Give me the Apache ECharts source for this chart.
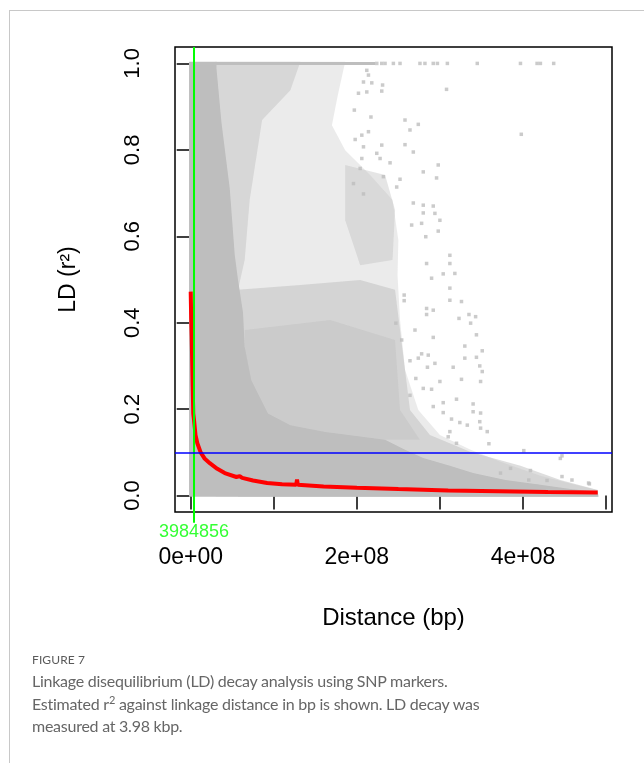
<!DOCTYPE html>
<html lang="en">
<head>
<meta charset="utf-8">
<title>LD decay</title>
<script src="https://cdn.jsdelivr.net/npm/echarts@6/dist/echarts.min.js"></script>
<style>
    html, body { margin: 0; padding: 0; background: #fff; }
    #wrap { position: relative; width: 644px; height: 763px; overflow: hidden; }
    #chart { position: absolute; left: 0; top: 0; width: 644px; height: 763px; }
    .frame { position: absolute; left: 9px; top: 10px; width: 700px; height: 800px;
             border-top: 1px solid #c8c8c8; border-left: 1px solid #c8c8c8; }
    .cap { position: absolute; left: 32px; color: #666; font-family: Lato, "Open Sans", sans-serif; }
    .figno { top: 652px; font-size: 12px; letter-spacing: 0.1px; color: #5a5a5a; }
    .captxt { top: 670px; font-size: 16px; letter-spacing: -0.25px; line-height: 22.7px; }
    .captxt sup { font-size: 11px; line-height: 0; }
</style>
</head>
<body>
<div id="wrap">
    <div class="frame"></div>
    <div id="chart"></div>
    <div class="cap figno">FIGURE 7</div>
    <div class="cap captxt">Linkage disequilibrium (LD) decay analysis using SNP markers.<br>Estimated r<sup>2</sup> against linkage distance in bp is shown. LD decay was<br>measured at 3.98 kbp.</div>
</div>
<script>
// axis ticks / labels
var xTicks = [0, 1e8, 2e8, 3e8, 4e8, 5e8];
var xLabels = [0, 2e8, 4e8];
var yTicks = [0, 0.2, 0.4, 0.6, 0.8, 1.0];

var ldDecayDist = 3984856;   // green line
var ldThreshold = 0.1;       // blue line

// fitted decay curve (red)
var decayCurve = [
    [0, 0.472], [0.6e6, 0.41], [1.2e6, 0.368], [2.4e6, 0.252], [3.1e6, 0.19], [4e6, 0.175],
    [5.8e6, 0.14], [8e6, 0.121], [1.2e7, 0.1], [1.7e7, 0.085], [2.3e7, 0.075], [3.2e7, 0.062],
    [4.1e7, 0.052], [5.5e7, 0.043], [5.9e7, 0.045], [6.2e7, 0.041], [7.5e7, 0.035], [9.2e7, 0.029],
    [1.1e8, 0.026], [1.27e8, 0.025], [1.28e8, 0.037], [1.29e8, 0.025], [1.6e8, 0.021],
    [2e8, 0.018], [2.5e8, 0.015], [3.1e8, 0.012], [3.7e8, 0.010], [4.3e8, 0.008], [4.9e8, 0.007]
];

// outlines of the pair cloud (dense core + speckled zones)
var cloudSolid = [
    [-0.02e8, 1.004], [0.31e8, 1.004], [0.31e8, 0.989], [0.37e8, 0.864], [0.47e8, 0.711],
    [0.53e8, 0.557], [0.57e8, 0.499], [0.63e8, 0.423], [0.65e8, 0.344], [0.73e8, 0.267],
    [0.93e8, 0.190], [1.20e8, 0.163], [1.62e8, 0.147], [2.34e8, 0.129], [2.58e8, 0.106],
    [2.80e8, 0.087], [3.12e8, 0.069], [3.40e8, 0.052], [3.79e8, 0.036], [4.21e8, 0.025],
    [4.57e8, 0.015], [4.90e8, 0.009], [4.91e8, -0.003], [-0.02e8, -0.003]
];
var cloudSparse = [
    [0.30e8, 1.004], [1.86e8, 1.004], [1.77e8, 0.926], [1.70e8, 0.857], [1.86e8, 0.799],
    [2.16e8, 0.742], [2.43e8, 0.684], [2.50e8, 0.591], [2.49e8, 0.510], [2.52e8, 0.406],
    [2.58e8, 0.291], [2.74e8, 0.198], [3.00e8, 0.140], [3.37e8, 0.106], [3.73e8, 0.078],
    [4.21e8, 0.046], [4.63e8, 0.025], [4.90e8, 0.013], [4.90e8, -0.003], [0.30e8, -0.003]
];
var cloudLower = [
    [0.57e8, 0.476], [1.32e8, 0.487], [2.04e8, 0.499], [2.46e8, 0.476], [2.52e8, 0.383],
    [2.58e8, 0.291], [2.64e8, 0.198], [2.88e8, 0.140], [3.37e8, 0.101], [3.97e8, 0.069],
    [4.45e8, 0.036], [4.90e8, 0.013], [4.90e8, -0.003], [0.57e8, -0.003]
];
var cloudUpperEdge = [
    [0.30e8, 1.004], [1.32e8, 1.004], [1.20e8, 0.938], [0.86e8, 0.869], [0.71e8, 0.684],
    [0.65e8, 0.545], [0.57e8, 0.476], [0.30e8, 0.476]
];
var cloudPatch = [
    [1.86e8, 0.765], [2.34e8, 0.742], [2.46e8, 0.661], [2.43e8, 0.545], [2.04e8, 0.533], [1.86e8, 0.637]
];
var cloudCore = [
    [0.65e8, 0.383], [1.68e8, 0.406], [2.46e8, 0.360], [2.52e8, 0.198], [2.76e8, 0.129], [0.65e8, 0.129]
];

// row of pairs at r2 = 1
var topBand = [[-0.02e8, 1.0], [2.22e8, 1.0]];
var topDots = [2.24e8, 2.30e8, 2.34e8, 2.44e8, 2.52e8, 2.76e8, 2.82e8, 2.92e8, 2.97e8, 3.09e8,
               3.45e8, 3.97e8, 4.17e8, 4.21e8, 4.37e8];

// isolated points outside the cloud
var outliers = [
    [2.12e8, 0.984], [2.14e8, 0.973], [2.08e8, 0.957], [2.18e8, 0.955], [2.31e8, 0.950], [2.30e8, 0.936],
    [2.02e8, 0.931], [2.12e8, 0.934], [3.08e8, 0.940], [1.97e8, 0.892], [2.17e8, 0.876], [2.58e8, 0.869],
    [2.74e8, 0.859], [2.64e8, 0.846], [2.14e8, 0.842], [1.98e8, 0.824], [2.06e8, 0.834], [2.08e8, 0.807],
    [2.30e8, 0.811], [2.58e8, 0.812], [2.68e8, 0.795], [3.98e8, 0.836], [2.24e8, 0.792], [2.28e8, 0.780],
    [2.06e8, 0.780], [2.40e8, 0.770], [2.98e8, 0.765], [2.80e8, 0.749], [2.96e8, 0.735], [2.52e8, 0.732],
    [2.32e8, 0.738], [2.04e8, 0.757], [1.96e8, 0.722], [2.08e8, 0.698], [2.48e8, 0.714], [2.68e8, 0.677],
    [2.80e8, 0.672], [2.92e8, 0.670], [2.80e8, 0.654], [2.94e8, 0.653], [3.00e8, 0.637], [2.66e8, 0.626],
    [2.78e8, 0.630], [2.98e8, 0.612], [2.83e8, 0.599], [3.12e8, 0.556], [3.12e8, 0.537], [2.84e8, 0.537],
    [3.18e8, 0.514], [3.04e8, 0.513], [2.90e8, 0.503], [3.12e8, 0.480], [3.12e8, 0.452], [3.26e8, 0.449],
    [2.57e8, 0.464], [2.57e8, 0.451], [2.84e8, 0.433], [2.92e8, 0.429], [2.84e8, 0.419], [3.35e8, 0.419],
    [3.43e8, 0.414], [3.23e8, 0.410], [3.37e8, 0.399], [2.47e8, 0.399], [2.70e8, 0.383], [3.44e8, 0.372],
    [2.92e8, 0.366], [2.54e8, 0.360], [3.30e8, 0.346], [3.51e8, 0.335], [2.78e8, 0.328], [2.86e8, 0.325],
    [2.74e8, 0.318], [2.64e8, 0.312], [2.94e8, 0.306], [3.30e8, 0.318], [3.44e8, 0.320], [3.16e8, 0.297],
    [2.85e8, 0.297], [3.48e8, 0.300], [3.51e8, 0.287], [2.71e8, 0.271], [3.26e8, 0.269], [3.49e8, 0.264],
    [3.00e8, 0.264], [2.80e8, 0.248], [2.90e8, 0.246], [2.64e8, 0.232], [3.20e8, 0.223], [3.04e8, 0.215],
    [3.40e8, 0.212], [2.92e8, 0.206], [3.40e8, 0.194], [3.04e8, 0.192], [3.49e8, 0.191], [3.14e8, 0.177],
    [3.24e8, 0.169], [3.33e8, 0.163], [3.48e8, 0.171], [3.49e8, 0.156], [3.12e8, 0.148], [3.10e8, 0.136],
    [3.57e8, 0.148], [3.59e8, 0.120], [3.20e8, 0.121], [4.01e8, 0.104], [4.47e8, 0.092], [4.45e8, 0.086],
    [4.09e8, 0.058], [4.47e8, 0.044], [4.29e8, 0.035], [4.59e8, 0.036], [4.80e8, 0.027], [4.07e8, 0.036],
    [3.85e8, 0.063], [3.73e8, 0.052], [4.17e8, 0.021], [4.79e8, 0.029]
];

var GREY = '#bebebe';
var FONT = '"Liberation Sans", Arial, sans-serif';

function polygonSeries(points, opacity) {
    return {
        type: 'custom',
        silent: true,
        data: [[0, 0]],
        renderItem: function (params, api) {
            return {
                type: 'polygon',
                shape: { points: points.map(function (p) { return api.coord(p); }) },
                style: { fill: GREY, opacity: opacity }
            };
        }
    };
}

var chart = echarts.init(document.getElementById('chart'));

var option = {
    animation: false,
    textStyle: { fontFamily: FONT },
    grid: {
        left: 175, top: 47, right: 32, bottom: 251,
        show: true, borderColor: '#000', borderWidth: 1.5, backgroundColor: 'transparent'
    },
    xAxis: {
        type: 'value',
        min: -1.89e7, max: 5.072e8,
        name: 'Distance (bp)',
        nameLocation: 'middle',
        nameGap: 94,
        nameTextStyle: { color: '#000', fontSize: 24, fontFamily: FONT },
        axisLine: { show: false },
        splitLine: { show: false },
        axisTick: { customValues: xTicks, length: 14, lineStyle: { color: '#000', width: 1.5 } },
        axisLabel: {
            customValues: xLabels, margin: 34, color: '#000', fontSize: 23, fontFamily: FONT,
            formatter: function (v) { return v === 0 ? '0e+00' : (v / 1e8) + 'e+08'; }
        }
    },
    yAxis: {
        type: 'value',
        min: -0.038, max: 1.038,
        name: 'LD (r²)',
        nameLocation: 'middle',
        nameGap: 95,
        nameRotate: 90,
        nameTextStyle: { color: '#000', fontSize: 23, fontFamily: FONT },
        axisLine: { show: false },
        splitLine: { show: false },
        axisTick: { customValues: yTicks, length: 14, lineStyle: { color: '#000', width: 1.5 } },
        axisLabel: {
            customValues: yTicks, rotate: 90, margin: 31, color: '#000', fontSize: 22, fontFamily: FONT,
            formatter: function (v) { return v.toFixed(1); }
        }
    },
    series: [
        polygonSeries(cloudSparse, 0.3),
        polygonSeries(cloudUpperEdge, 0.45),
        polygonSeries(cloudPatch, 0.4),
        polygonSeries(cloudLower, 0.5),
        polygonSeries(cloudCore, 0.4),
        polygonSeries(cloudSolid, 1),
        {
            type: 'line', data: topBand, symbol: 'none', silent: true,
            lineStyle: { color: GREY, width: 3 }
        },
        {
            type: 'scatter', silent: true, symbol: 'rect', symbolSize: 3.5,
            itemStyle: { color: GREY },
            data: topDots.map(function (x) { return [x, 1.0]; }).concat(outliers)
        },
        {
            type: 'line', data: decayCurve, symbol: 'none', silent: true,
            lineStyle: { color: '#ff0000', width: 4 },
            markLine: {
                silent: true, symbol: 'none', label: { show: false },
                lineStyle: { color: '#0000ff', width: 1.6, type: 'solid' },
                data: [{ yAxis: ldThreshold }]
            }
        },
        {
            type: 'line', clip: false, symbol: 'none', silent: true,
            data: [[ldDecayDist, -0.063], [ldDecayDist, 1.038]],
            lineStyle: { color: '#00ff00', width: 2 }
        },
        {
            type: 'scatter', clip: false, silent: true, symbolSize: 2,
            itemStyle: { color: 'rgba(255,255,255,0)' },
            data: [[ldDecayDist, -0.084]],
            label: {
                show: true, position: 'inside', color: '#00ff00', fontSize: 18, fontFamily: FONT,
                formatter: function () { return String(ldDecayDist); }
            }
        }
    ]
};

chart.setOption(option);
</script>
</body>
</html>
